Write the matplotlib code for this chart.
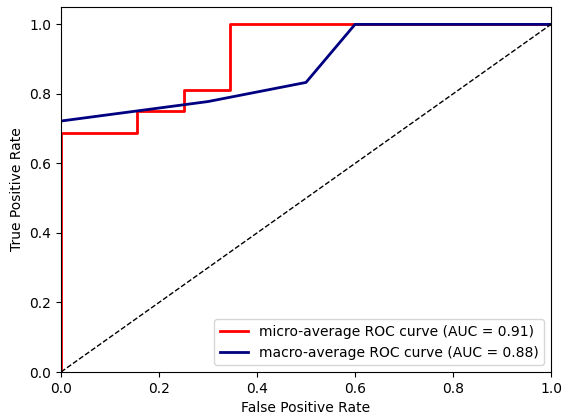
import matplotlib.pyplot as plt

# micro-average ROC points
fpr_micro = [0.0, 0.0, 0.156, 0.156, 0.25, 0.25, 0.344, 0.344, 1.0]
tpr_micro = [0.0, 0.6875, 0.6875, 0.75, 0.75, 0.8125, 0.8125, 1.0, 1.0]
auc_micro = 0.91

# macro-average ROC points
fpr_macro = [0.0, 0.3, 0.5, 0.6, 1.0]
tpr_macro = [0.722, 0.778, 0.833, 1.0, 1.0]
auc_macro = 0.88

fig, ax = plt.subplots(figsize=(5.62, 4.16), dpi=100)
ax.plot(fpr_micro, tpr_micro, color='red', lw=2,
        label='micro-average ROC curve (AUC = %0.2f)' % auc_micro)
ax.plot(fpr_macro, tpr_macro, color='navy', lw=2,
        label='macro-average ROC curve (AUC = %0.2f)' % auc_macro)
ax.plot([0, 1], [0, 1], 'k--', lw=1)
ax.set_xlim(0.0, 1.0)
ax.set_ylim(0.0, 1.05)
ax.set_xlabel('False Positive Rate')
ax.set_ylabel('True Positive Rate')
ax.legend(loc='lower right')
fig.subplots_adjust(left=61/562, right=551/562, top=1-7/416, bottom=1-372/416)
fig.savefig('out.png')
